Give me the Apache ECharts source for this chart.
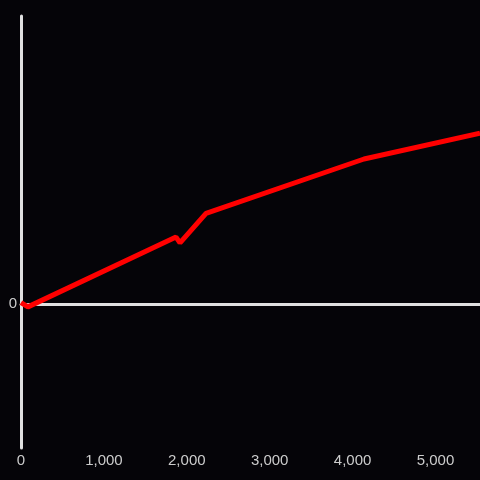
<!DOCTYPE html>
<html>
<head>
<meta charset="utf-8">
<script src="https://cdn.jsdelivr.net/npm/echarts@6/dist/echarts.min.js"></script>
<style>
  html, body { margin: 0; padding: 0; background: #050408; }
  #main { width: 480px; height: 480px; }
</style>
</head>
<body>
<div id="main"></div>
<script>
// points
const xValues = [0, 84, 1870, 1918, 2232, 4138, 5537]
const yValues = [1, -2, 46.5, 42.4, 63, 100.7, 118.7]
const xTicks = [0, 1000, 2000, 3000, 4000, 5000]

const chart = echarts.init(document.getElementById('main'))

const axisColor = '#e0e0e0'
const xMax = 5537

chart.setOption({
  backgroundColor: '#050408',
  animation: false,
  grid: {
    left: 21,
    right: 0,
    top: 16,
    bottom: 32,
  },
  xAxis: [
    {
      // the line through zero
      type: 'value',
      min: 0,
      max: xMax,
      axisLine: { onZero: true, lineStyle: { color: axisColor, width: 3 } },
      axisTick: { show: false },
      axisLabel: { show: false },
      splitLine: { show: false },
    },
    {
      // labels along the bottom
      type: 'value',
      position: 'bottom',
      min: 0,
      max: xMax,
      interval: 1000,
      axisLine: { show: false, onZero: false },
      axisTick: { show: false },
      splitLine: { show: false },
      axisLabel: {
        color: '#cccccc',
        fontSize: 15,
        margin: 5,
        showMaxLabel: false,
        formatter: v => xTicks.includes(v) ? v.toLocaleString('en-US') : '',
      },
    },
  ],
  yAxis: {
    type: 'value',
    min: -100,
    max: 200,
    interval: 100,
    axisLine: { show: true, onZero: false, lineStyle: { color: axisColor, width: 3 } },
    axisTick: { show: false },
    splitLine: { show: false },
    axisLabel: {
      color: '#cccccc',
      fontSize: 15,
      margin: 4,
      formatter: v => v === 0 ? '0' : '',
    },
  },
  series: [
    {
      type: 'line',
      xAxisIndex: 0,
      data: xValues.map((x, i) => [x, yValues[i]]),
      symbol: 'none',
      lineStyle: { color: '#ff0000', width: 5 },
      z: 10,
    },
  ],
})
</script>
</body>
</html>
